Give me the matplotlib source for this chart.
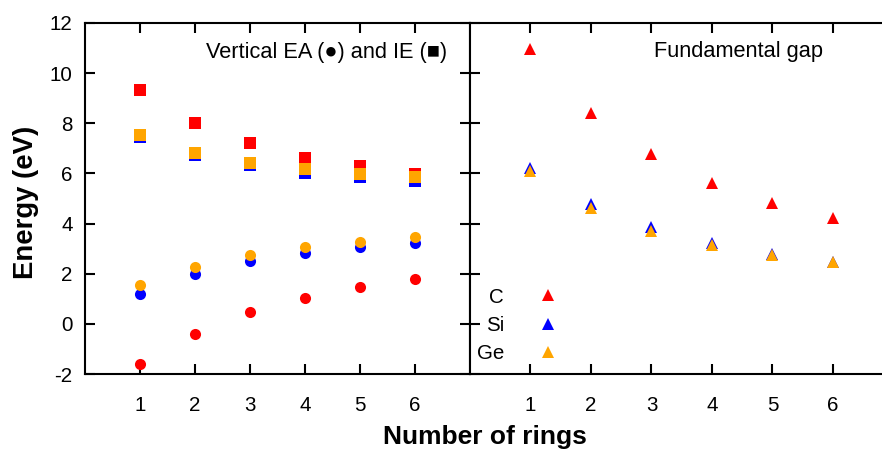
import matplotlib
matplotlib.use('Agg')
import matplotlib.pyplot as plt

plt.rcParams['font.family'] = ['Liberation Sans', 'DejaVu Sans']

rings = [1, 2, 3, 4, 5, 6]
elements = ['C', 'Si', 'Ge']
colors = {'C': '#ff0000', 'Si': '#0000ff', 'Ge': '#ffa500'}

# vertical ionisation energy (squares)
ie = {
    'C':  [9.32, 8.02, 7.22, 6.63, 6.28, 5.96],
    'Si': [7.44, 6.73, 6.33, 6.03, 5.84, 5.70],
    'Ge': [7.52, 6.81, 6.41, 6.16, 5.98, 5.86],
}
# vertical electron affinity (circles)
ea = {
    'C':  [-1.62, -0.39, 0.46, 1.05, 1.48, 1.79],
    'Si': [1.20, 1.98, 2.49, 2.83, 3.06, 3.23],
    'Ge': [1.53, 2.26, 2.74, 3.07, 3.27, 3.45],
}
# fundamental gap (triangles)
gap = {
    'C':  [10.97, 8.42, 6.76, 5.63, 4.83, 4.22],
    'Si': [6.23, 4.77, 3.86, 3.22, 2.80, 2.45],
    'Ge': [6.08, 4.62, 3.71, 3.16, 2.73, 2.47],
}

y_ticks = [-2, 0, 2, 4, 6, 8, 10, 12]

fig = plt.figure(figsize=(8.82, 4.53), dpi=100)
ax1 = fig.add_axes([85 / 882, 79 / 453, 385 / 882, 351 / 453])
ax2 = fig.add_axes([470 / 882, 79 / 453, 423.5 / 882, 351 / 453])

for el in elements:
    ax1.plot(rings, ie[el], 's', color=colors[el], ms=8.4, mew=0)
    ax1.plot(rings, ea[el], 'o', color=colors[el], ms=8.0, mew=0)
    ax2.plot(rings, gap[el], '^', color=colors[el], ms=9.2, mew=0, label=el)

for ax in (ax1, ax2):
    ax.set_xlim(0, 7)
    ax.set_ylim(-2, 12)
    ax.set_xticks(rings)
    ax.set_yticks(y_ticks)
    ax.tick_params(direction='in', length=7.5, width=1.5, top=True, right=True,
                   labelsize=14.8, colors='black')
    ax.tick_params(axis='x', pad=16)
    ax.tick_params(axis='y', pad=9)
    for sp in ax.spines.values():
        sp.set_linewidth(1.5)

ax1.set_yticklabels([str(t) for t in y_ticks])
ax2.tick_params(axis='y', labelleft=False)

ax1.set_ylabel('Energy (eV)', fontsize=19.8, fontweight='bold')
ax1.yaxis.set_label_coords(-0.12, 0.49)
fig.text(485 / 882, 8.7 / 453, 'Number of rings', ha='center', va='baseline',
         fontsize=19, fontweight='bold')

ax1.text(0.9395, 0.901, 'Vertical EA (\u25cf) and IE (\u25a0)', transform=ax1.transAxes,
         ha='right', va='baseline', fontsize=15.7)
ax2.text(0.8335, 0.904, 'Fundamental gap', transform=ax2.transAxes,
         ha='right', va='baseline', fontsize=15.7)

leg = ax2.legend(loc='lower left', bbox_to_anchor=(0.0165, 0.03), markerfirst=False,
                 frameon=False, fontsize=14.8, numpoints=1, handlelength=2.0,
                 handletextpad=1.14, labelspacing=0.46, borderpad=0, borderaxespad=0)
for col in leg._legend_handle_box.get_children():
    col.align = 'right'

fig.savefig('out.png', dpi=100)
